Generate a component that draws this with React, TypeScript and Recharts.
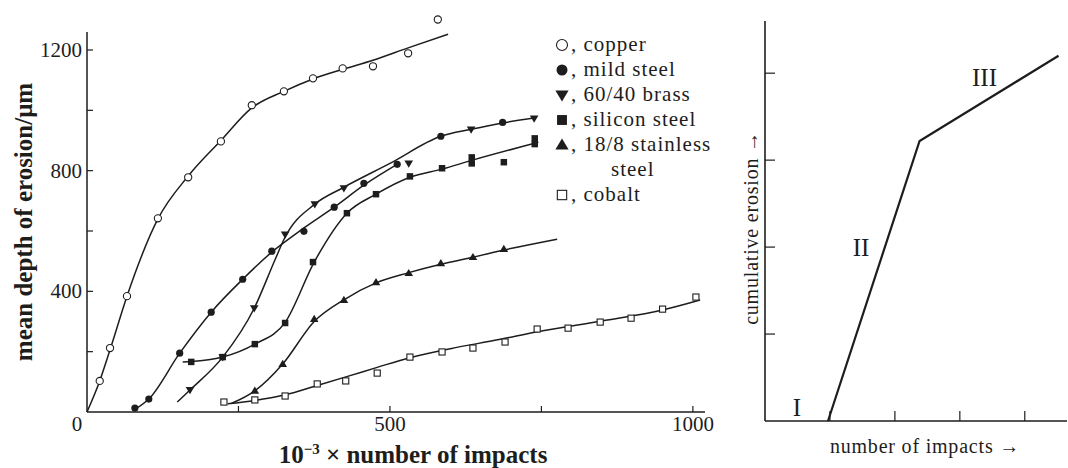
import {
  ComposedChart,
  LineChart,
  Line,
  Scatter,
  XAxis,
  YAxis,
  Legend,
  ReferenceDot,
  ReferenceLine,
} from 'recharts'

type Pt = [number, number]
type MarkerKind = 'openCircle' | 'dot' | 'down' | 'square' | 'up' | 'openSquare'

const SERIF = '"Liberation Serif", "Times New Roman", serif'
const INK = '#1d1d1d'

// erosion depth (µm) against thousands of impacts — measured points and fitted curves
const copperPoints: Pt[] = [
  [21, 103], [38, 212], [66, 384], [117, 642], [167, 778], [221, 897], [272, 1017],
  [325, 1063], [373, 1106], [422, 1139], [472, 1146], [530, 1189], [579, 1301],
]
const copperCurve: Pt[] = [
  [0, 0], [21, 103], [38, 206], [66, 384], [117, 640], [167, 782], [221, 900], [272, 1008],
  [325, 1063], [373, 1104], [424, 1137], [472, 1166], [530, 1207], [596, 1252],
]

const mildSteelPoints: Pt[] = [
  [79, 13], [102, 43], [153, 195], [205, 331], [257, 440], [305, 533], [358, 599],
  [408, 679], [457, 758], [512, 821], [584, 914], [686, 960],
]
const mildSteelCurve: Pt[] = [
  [76, 5], [102, 43], [153, 195], [205, 331], [257, 440], [305, 530], [358, 610],
  [408, 679], [457, 752], [516, 826],
]

const brassPoints: Pt[] = [
  [170, 73], [224, 182], [276, 344], [327, 589], [376, 689], [424, 742], [531, 824],
  [634, 937], [738, 973],
]
const brassCurve: Pt[] = [
  [149, 33], [170, 73], [224, 182], [276, 344], [310, 503], [327, 580], [376, 689],
  [424, 745], [500, 824], [584, 914], [634, 937], [686, 958], [740, 975],
]

const siliconPoints: Pt[] = [
  [172, 166], [224, 182], [277, 225], [327, 295], [373, 497], [429, 659], [477, 722],
  [533, 781], [586, 808], [635, 844], [635, 824], [688, 828], [739, 907], [739, 888],
]
const siliconCurve: Pt[] = [
  [158, 166], [172, 167], [224, 182], [277, 225], [327, 297], [375, 497], [429, 659],
  [477, 722], [533, 778], [586, 805], [635, 834], [745, 894],
]

const stainlessPoints: Pt[] = [
  [277, 70], [323, 159], [375, 308], [424, 371], [477, 430], [531, 460], [584, 493],
  [637, 513], [688, 540],
]
const stainlessCurve: Pt[] = [
  [238, 28], [277, 70], [323, 159], [375, 300], [424, 372], [477, 428], [531, 462],
  [584, 490], [637, 513], [688, 537], [776, 573],
]

const cobaltPoints: Pt[] = [
  [226, 33], [277, 40], [327, 53], [380, 93], [427, 103], [479, 129], [533, 182],
  [586, 199], [637, 212], [690, 232], [743, 275], [794, 278], [847, 298], [898, 311],
  [950, 341], [1005, 381],
]
const cobaltCurve: Pt[] = [
  [232, 27], [277, 38], [327, 57], [380, 88], [430, 118], [479, 148], [533, 180],
  [600, 210], [680, 240], [743, 266], [850, 302], [950, 338], [1012, 371],
]

const series: { key: string; label: string; more?: string; marker: MarkerKind; points: Pt[]; curve: Pt[] }[] = [
  { key: 'copper', label: 'copper', marker: 'openCircle', points: copperPoints, curve: copperCurve },
  { key: 'mild', label: 'mild steel', marker: 'dot', points: mildSteelPoints, curve: mildSteelCurve },
  { key: 'brass', label: '60/40 brass', marker: 'down', points: brassPoints, curve: brassCurve },
  { key: 'silicon', label: 'silicon steel', marker: 'square', points: siliconPoints, curve: siliconCurve },
  { key: 'stainless', label: '18/8 stainless', more: 'steel', marker: 'up', points: stainlessPoints, curve: stainlessCurve },
  { key: 'cobalt', label: 'cobalt', marker: 'openSquare', points: cobaltPoints, curve: cobaltCurve },
]

const xTicks = [0, 250, 500, 750, 1000]
const yTicks = [0, 200, 400, 600, 800, 1000, 1200]
const xLabelled = [0, 500, 1000]
const yLabelled = [400, 800, 1200]
const yAxisTop = 1260

// schematic of the three stages: incubation, acceleration, steady rate
const stageCurve: Pt[] = [[0.97, 0], [2.38, 3.22], [4.52, 4.2]]
const stageTicks = [1, 2, 3, 4]
const stageLabels = [
  { text: 'I', x: 0.49, y: 0.16 },
  { text: 'II', x: 1.48, y: 2.0 },
  { text: 'III', x: 3.38, y: 3.95 },
]

const toRows = (pts: Pt[]) => pts.map(([x, y]) => ({ x, y }))

function Marker({ cx, cy, kind, r = 3.6 }: { cx: number; cy: number; kind: MarkerKind; r?: number }) {
  switch (kind) {
    case 'openCircle':
      return <circle cx={cx} cy={cy} r={r} fill="#fff" stroke={INK} strokeWidth={1.1} />
    case 'dot':
      return <circle cx={cx} cy={cy} r={r} fill={INK} />
    case 'down':
      return (
        <polygon
          points={`${cx - r * 1.2},${cy - r * 0.8} ${cx + r * 1.2},${cy - r * 0.8} ${cx},${cy + r * 1.2}`}
          fill={INK}
        />
      )
    case 'up':
      return (
        <polygon
          points={`${cx - r * 1.2},${cy + r * 0.8} ${cx + r * 1.2},${cy + r * 0.8} ${cx},${cy - r * 1.2}`}
          fill={INK}
        />
      )
    case 'square':
      return <rect x={cx - r * 0.9} y={cy - r * 0.9} width={r * 1.8} height={r * 1.8} fill={INK} />
    default:
      return (
        <rect
          x={cx - r * 0.85}
          y={cy - r * 0.85}
          width={r * 1.7}
          height={r * 1.7}
          fill="#fff"
          stroke={INK}
          strokeWidth={1.1}
        />
      )
  }
}

const textStyle = { fontFamily: SERIF, fill: INK }

const LeftXTick = ({ x, y, payload }: any) => {
  const v = payload.value
  return (
    <g>
      {v !== 0 && <line x1={x} x2={x} y1={y} y2={y - 6} stroke={INK} strokeWidth={1.2} />}
      {xLabelled.includes(v) && (
        <text x={v === 0 ? x - 10 : x} y={y + 19} textAnchor="middle" fontSize={21} {...textStyle}>
          {v}
        </text>
      )}
    </g>
  )
}

const LeftYTick = ({ x, y, payload }: any) => {
  const v = payload.value
  return (
    <g>
      {v !== 0 && <line x1={x} x2={x + 6} y1={y} y2={y} stroke={INK} strokeWidth={1.2} />}
      {yLabelled.includes(v) && (
        <text x={x - 5} y={y + 7} textAnchor="end" fontSize={21} {...textStyle}>
          {v}
        </text>
      )}
    </g>
  )
}

const StageXTick = ({ x, y }: any) => (
  <line x1={x} x2={x} y1={y} y2={y - 10} stroke={INK} strokeWidth={1.2} />
)

const StageYTick = ({ x, y }: any) => (
  <line x1={x} x2={x + 10} y1={y} y2={y} stroke={INK} strokeWidth={1.2} />
)

const renderLegend = () => (
  <div
    style={{
      fontFamily: SERIF,
      fontSize: 21,
      lineHeight: '25px',
      color: INK,
      letterSpacing: 1,
      whiteSpace: 'nowrap',
    }}
  >
    {series.map((s) => (
      <div key={s.key}>
        <div style={{ display: 'flex', alignItems: 'center', height: 25 }}>
          <svg width={18} height={18} style={{ flex: 'none' }}>
            <Marker cx={9} cy={9} kind={s.marker} r={5.5} />
          </svg>
          <span>, {s.label}</span>
        </div>
        {s.more && <div style={{ paddingLeft: 58, height: 25 }}>{s.more}</div>}
      </div>
    ))}
  </div>
)

export default function App() {
  return (
    <div style={{ position: 'absolute', left: 0, top: 0, width: 1068, height: 468, background: '#fff' }}>
      <div style={{ position: 'absolute', left: 0, top: 0 }}>
        <ComposedChart width={740} height={468} margin={{ top: 16.8, right: 35, bottom: 16, left: 27 }}>
          <XAxis
            type="number"
            dataKey="x"
            domain={[0, 1020]}
            ticks={xTicks}
            interval={0}
            height={40}
            tickSize={0}
            tickMargin={0}
            tickLine={false}
            axisLine={{ stroke: INK, strokeWidth: 1.5 }}
            tick={LeftXTick}
            label={() => (
              <text x={413} y={463} textAnchor="middle" fontSize={25} fontWeight="bold" {...textStyle}>
                10<tspan dy={-9} fontSize={15}>−3</tspan>
                <tspan dy={9}> × number of impacts</tspan>
              </text>
            )}
          />
          <YAxis
            type="number"
            dataKey="y"
            domain={[0, 1310]}
            ticks={yTicks}
            interval={0}
            width={60}
            tickSize={0}
            tickMargin={0}
            tickLine={false}
            axisLine={false}
            tick={LeftYTick}
            label={() => (
              <text
                transform="translate(32,222) rotate(-90)"
                textAnchor="middle"
                fontSize={25}
                fontWeight="bold"
                {...textStyle}
              >
                mean depth of erosion/μm
              </text>
            )}
          />
          <ReferenceLine
            segment={[{ x: 0, y: 0 }, { x: 0, y: yAxisTop }]}
            stroke={INK}
            strokeWidth={1.5}
          />
          {series.map((s) => (
            <Line
              key={`${s.key}-curve`}
              data={toRows(s.curve)}
              dataKey="y"
              type="monotone"
              stroke={INK}
              strokeWidth={1.5}
              dot={false}
              activeDot={false}
              legendType="none"
              isAnimationActive={false}
            />
          ))}
          {series.map((s) => (
            <Scatter
              key={`${s.key}-points`}
              name={s.label}
              data={toRows(s.points)}
              dataKey="y"
              shape={(p: any) => <Marker cx={p.cx} cy={p.cy} kind={s.marker} />}
              isAnimationActive={false}
            />
          ))}
          <Legend
            layout="vertical"
            align="center"
            verticalAlign="middle"
            wrapperStyle={{ left: 553, top: 32, width: 185 }}
            content={renderLegend}
          />
        </ComposedChart>
      </div>

      <div style={{ position: 'absolute', left: 740, top: 0, width: 328, height: 468, overflow: 'hidden' }}>
        <LineChart width={328} height={468} margin={{ top: 21, right: 1, bottom: 17, left: 5 }}>
          <XAxis
            type="number"
            dataKey="x"
            domain={[0, 4.65]}
            ticks={stageTicks}
            interval={0}
            height={30}
            tickSize={0}
            tickMargin={0}
            tickLine={false}
            axisLine={{ stroke: INK, strokeWidth: 1.6 }}
            tick={StageXTick}
            label={() => (
              <text x={185} y={453} textAnchor="middle" fontSize={20} letterSpacing={0.8} {...textStyle}>
                number of impacts →
              </text>
            )}
          />
          <YAxis
            type="number"
            dataKey="y"
            domain={[0, 4.6]}
            ticks={stageTicks}
            interval={0}
            width={20}
            tickSize={0}
            tickMargin={0}
            tickLine={false}
            axisLine={{ stroke: INK, strokeWidth: 1.6 }}
            tick={StageYTick}
            label={() => (
              <text
                transform="translate(18,228) rotate(-90)"
                textAnchor="middle"
                fontSize={20}
                letterSpacing={0.8}
                {...textStyle}
              >
                cumulative erosion →
              </text>
            )}
          />
          <Line
            data={toRows(stageCurve)}
            dataKey="y"
            type="linear"
            stroke={INK}
            strokeWidth={2.2}
            dot={false}
            activeDot={false}
            isAnimationActive={false}
          />
          {stageLabels.map((l) => (
            <ReferenceDot
              key={l.text}
              x={l.x}
              y={l.y}
              r={0}
              fill="none"
              stroke="none"
              label={{ value: l.text, position: 'center', fontFamily: SERIF, fontSize: 25, fill: INK }}
            />
          ))}
        </LineChart>
      </div>
    </div>
  )
}
